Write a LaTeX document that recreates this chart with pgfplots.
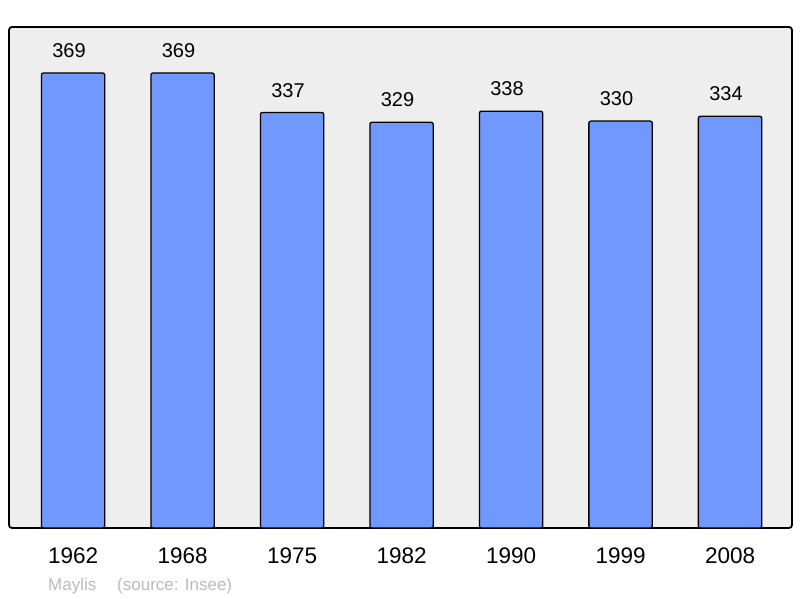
\documentclass[border=0pt]{standalone}
\usepackage{fontspec}
\setmainfont{Liberation Sans}
\usepackage{pgfplots}
\pgfplotsset{compat=1.18}
\definecolor{barblue}{HTML}{7098FF}
\definecolor{bgc}{HTML}{EEEEEE}
\definecolor{srcgrey}{HTML}{BBBBBB}
\begin{document}
\begin{tikzpicture}[x=1pt,y=1pt]
\path[use as bounding box] (0,0) rectangle (800,598);
\begin{axis}[
  at={(9pt,70pt)}, anchor=south west,
  width=783pt, height=501pt, scale only axis,
  xmin=-0.585, xmax=6.566, ymin=0, ymax=406.3,
  /pgf/number format/assume math mode=true,
  axis line style={draw=none},
  axis background/.style={fill=bgc, draw=black, line width=1.8pt, rounded corners=3pt},
  ybar, bar width=0.578,
  xtick=data,
  xticklabels={1962,1968,1975,1982,1990,1999,2008},
  xticklabel style={font=\fontsize{22.5}{26}\selectfont, anchor=north, inner sep=0pt, yshift=-20pt},
  ytick=\empty,
  major tick length=0pt,
  nodes near coords,
  every node near coord/.append style={font=\fontsize{20}{24}\selectfont, anchor=south, inner sep=0pt, yshift=14.5pt, xshift=-4pt, text=black},
  clip=false,
]
\addplot[fill=barblue, draw=black, line width=1.3pt, rounded corners=2pt] coordinates {
  (0,369) (1,369) (2,337) (3,329) (4,338) (5,330) (6,334)
};
\end{axis}
\node[anchor=base west, inner sep=0pt, text=srcgrey, font=\fontsize{17}{20}\selectfont] at (48,8) {Maylis};
\node[anchor=base west, inner sep=0pt, text=srcgrey, font=\fontsize{17}{20}\selectfont] at (117,8) {(source: Insee)};
\end{tikzpicture}
\end{document}
